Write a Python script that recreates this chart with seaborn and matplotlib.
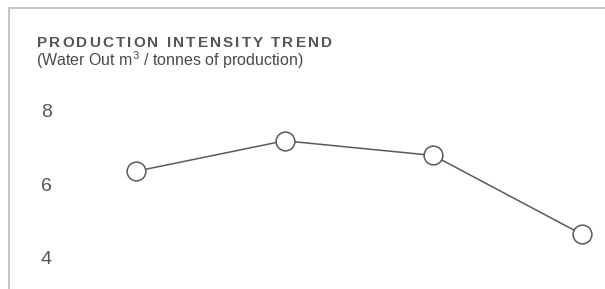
import numpy as np
import pandas as pd
import matplotlib
matplotlib.use("Agg")
import matplotlib.pyplot as plt
import seaborn as sns
from matplotlib.lines import Line2D

# data
periods = [0, 1, 2, 3]
intensity = [6.35, 7.18, 6.78, 4.63]
y_ticks = [4, 6, 8]

title = "PRODUCTION INTENSITY TREND"
subtitle = r"(Water Out m$^{\mathrm{3}}$ / tonnes of production)"

sns.set_theme(style="white")
plt.rcParams['font.family'] = ['Liberation Sans', 'DejaVu Sans']
plt.rcParams['mathtext.fontset'] = 'custom'
plt.rcParams['mathtext.rm'] = 'Liberation Sans'

df = pd.DataFrame({"period": periods, "intensity": intensity})

W, H = 605, 289
fig = plt.figure(figsize=(W / 100, H / 100), dpi=100)
ax = fig.add_axes([60 / W, 0, (W - 60) / W, (289 - 95) / H])

sns.lineplot(data=df, x="period", y="intensity", ax=ax, color="#5a5a5a",
             linewidth=1.1, marker="o", markersize=13.5,
             markerfacecolor="white", markeredgecolor="#5a5a5a",
             markeredgewidth=1.1)

# x: first point at 136px, last at 582px
unit = (582 - 136) / 3
ax.set_xlim(-(136 - 60) / unit, 3 + (605 - 582) / unit)
# y: 8 at ~110.7px, 4 at ~257.5px
yu = (257.5 - 110.7) / 4
ax.set_ylim(4 - (289 - 257.5) / yu, 8 + (110.7 - 95) / yu)

ax.set_yticks(y_ticks)
ax.set_yticklabels([str(t) for t in y_ticks], fontsize=14, color="#555555")
ax.tick_params(axis="y", length=0, pad=6)
ax.set_xticks([])
ax.set_xlabel("")
ax.set_ylabel("")
for s in ax.spines.values():
    s.set_visible(False)

# card border (top and left)
fig.add_artist(Line2D([8.5 / W, 8.5 / W], [0, 1 - 7.5 / H], transform=fig.transFigure,
                      color="#c3bfbb", lw=1.3))
fig.add_artist(Line2D([8.5 / W, 1], [1 - 7.5 / H, 1 - 7.5 / H], transform=fig.transFigure,
                      color="#c3bfbb", lw=1.3))

# title with letter spacing, drawn char by char
renderer = fig.canvas.get_renderer()
tkw = dict(fontsize=11, fontweight="bold", color="#555555", ha="left", va="baseline")
probe = fig.text(0, 0, "", **tkw)


def text_w(s):
    probe.set_text(s)
    return probe.get_window_extent(renderer).width


spacing = 2.1
x0 = 37
hw = text_w("H")
for i, ch in enumerate(title):
    if ch == " ":
        continue
    off = text_w(title[:i] + "H") - hw if i else 0
    fig.text((x0 + off + i * spacing) / W, 1 - 47 / H, ch, **tkw)
probe.remove()

fig.text(36 / W, 1 - 66 / H, subtitle, fontsize=11.5, color="#4a4a4a",
         ha="left", va="baseline")

fig.savefig("out.png", dpi=100)
